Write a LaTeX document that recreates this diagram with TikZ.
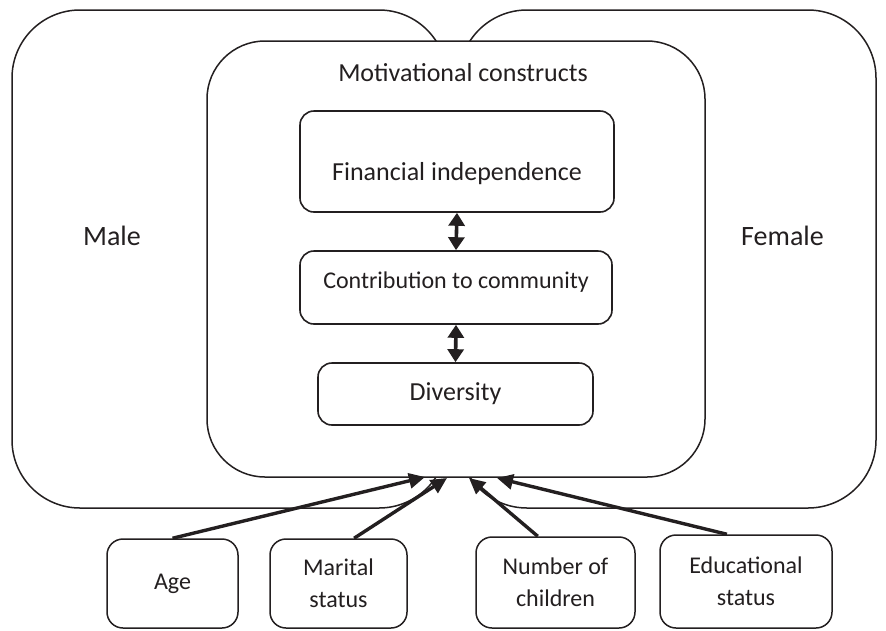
\documentclass[tikz,border=0pt]{standalone}
\usepackage{fontspec}
\setmainfont{Carlito}
\usetikzlibrary{arrows.meta}
\definecolor{ink}{RGB}{35,31,32}
\begin{document}
\begin{tikzpicture}[x=1pt,y=-1pt,color=ink,
    group/.style ={rectangle,rounded corners=68pt,draw,line width=1.5pt,inner sep=0pt},
    construct/.style ={rectangle,rounded corners=14pt,draw,fill=white,line width=1.6pt,inner sep=0pt},
    factor/.style ={rectangle,rounded corners=16pt,draw,fill=white,line width=1.5pt,inner sep=0pt,align=center,font=\fontsize{24}{32}\selectfont},
    link/.style ={line width=3.4pt,-{Triangle[length=16pt,width=15pt]}},
    both/.style ={line width=3.6pt,{Triangle[length=13pt,width=16pt]}-{Triangle[length=13pt,width=16pt]}}]
    \useasboundingbox (0,0) rectangle (886,630);
    \node[group,minimum width=435pt,minimum height=498pt] (male) at (229.5,259) {};
    \node[group,minimum width=417pt,minimum height=498pt] (female) at (667.5,259) {};
    \node[group,fill=white,rounded corners=58pt,minimum width=498pt,minimum height=436pt] (inner) at (456,259) {};
    \node[font=\fontsize{28}{32}\selectfont] (malelbl) at (112,236) {Male};
    \node[font=\fontsize{28}{32}\selectfont] (femalelbl) at (782.5,236) {Female};
    \node[font=\fontsize{26}{30}\selectfont] (title) at (463,73) {Motivational constructs};
    \node[construct,minimum width=314pt,minimum height=101pt,text height=43pt,text depth=5pt,font=\fontsize{26}{30}\selectfont] (fin) at (457,161.5) {Financial independence};
    \node[construct,minimum width=312pt,minimum height=73pt,text height=17pt,text depth=16pt,font=\fontsize{24}{28}\selectfont] (contrib) at (456,287.5) {Contribution to community};
    \node[construct,minimum width=275pt,minimum height=62pt,font=\fontsize{26}{30}\selectfont] (div) at (455.5,394) {Diversity};
    \draw[both] (fin.south) -- (contrib.north);
    \draw[both] (contrib.south) -- (div.north);
    % background factors
    \node[factor,minimum width=131pt,minimum height=89pt] (age) at (172.5,583.5) {Age};
    \node[factor,minimum width=137pt,minimum height=89pt] (marital) at (338.5,583.5) {Marital\\status};
    \node[factor,minimum width=159pt,minimum height=91pt] (children) at (555.5,582.5) {Number of\\children};
    \node[factor,minimum width=172pt,minimum height=93pt] (education) at (746,581.5) {Educational\\status};
    \coordinate (inAge) at (425,477);
    \coordinate (inMarital) at (447,478);
    \coordinate (inChildren) at (469,478);
    \coordinate (inEducation) at (497,478);
    \draw[link] (age.north) -- (inAge);
    \draw[link] (marital.71) -- (inMarital);
    \draw[link] (children.111) -- (inChildren);
    \draw[link] (education.112) -- (inEducation);
\end{tikzpicture}
\end{document}
